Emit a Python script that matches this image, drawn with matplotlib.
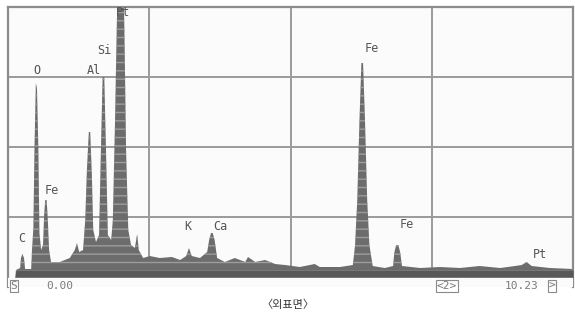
import numpy as np
import matplotlib
matplotlib.use("Agg")
import matplotlib.pyplot as plt

# spectrum (energy in keV, counts in arbitrary units)
energy = [0.00, 0.13, 0.145, 0.22, 0.235, 0.26, 0.29, 0.31, 0.42, 0.435, 0.46, 0.48,
          0.505, 0.525, 0.55, 0.57, 0.60, 0.635, 0.655, 0.675, 0.70, 0.72, 0.745, 0.78,
          0.94, 1.12, 1.21, 1.25, 1.29, 1.36, 1.40, 1.43, 1.465, 1.49, 1.52, 1.545,
          1.595, 1.65, 1.68, 1.715, 1.745, 1.78, 1.81, 1.87, 1.90, 1.94, 1.97, 1.99,
          2.09, 2.11, 2.14, 2.18, 2.23, 2.30, 2.34, 2.37, 2.45, 2.57, 2.75, 2.97, 3.12,
          3.23, 3.28, 3.33, 3.48, 3.61, 3.645, 3.68, 3.71, 3.745, 3.79, 3.93, 4.11, 4.30,
          4.35, 4.48, 4.66, 4.84, 5.02, 5.29, 5.56, 5.65, 6.02, 6.25, 6.29, 6.33, 6.37,
          6.405, 6.435, 6.47, 6.51, 6.55, 6.61, 6.83, 6.98, 7.00, 7.035, 7.075, 7.11,
          7.14, 7.47, 7.83, 8.19, 8.55, 8.92, 9.19, 9.31, 9.40, 9.49, 9.82, 10.24]
counts = [0, 0, 8, 10, 20, 24, 20, 9, 9, 28, 50, 130,
          195, 190, 130, 45, 28, 33, 63, 78, 78, 60, 28, 16,
          16, 20, 28, 35, 26, 28, 58, 108, 146, 146, 103, 48,
          36, 43, 118, 201, 201, 118, 43, 38, 58, 158, 248, 300,
          300, 248, 128, 48, 33, 30, 44, 28, 20, 22, 20, 21, 18,
          22, 30, 22, 20, 26, 38, 45, 45, 38, 20, 16, 20, 16,
          21, 16, 18, 14, 13, 11, 14, 11, 11, 13, 33, 78, 158,
          215, 215, 158, 78, 33, 12, 10, 12, 25, 33, 33, 25,
          12, 10, 11, 10, 12, 10, 12, 13, 16, 12, 10, 9]

# element markers
peak_names = ["C", "O", "Fe", "Al", "Si", "Pt", "K", "Ca", "Fe", "Fe", "Pt"]
peak_x = [0.25, 0.53, 0.80, 1.56, 1.74, 2.08, 3.26, 3.84, 6.60, 7.23, 9.64]
peak_y = [40, 208, 88, 208, 228, 265, 52, 52, 230, 53, 24]

fig = plt.figure(figsize=(5.75, 3.2), dpi=100)
ax = fig.add_axes([8/575, 33/320, 565/575, 280/320])
ax.set_facecolor("#fbfbfb")

lo, hi = -9, 271
ax.set_xlim(0, 10.24)
ax.set_ylim(lo, hi)

# grid (4 x 4 screen divisions)
ax.set_xticks(np.linspace(0, 10.24, 5)[1:-1])
ax.set_yticks(lo + (hi - lo) * np.array([0.25, 0.5, 0.75]))
ax.grid(True, color="#9a9a9a", lw=1.4, zorder=0)
ax.tick_params(length=0, labelbottom=False, labelleft=False)

plt.rcParams["hatch.linewidth"] = 1.0
ax.fill_between(energy, 0, counts, facecolor="#6c6c6c", edgecolor="#9c9c9c",
                hatch="--", linewidth=0, zorder=2)
ax.fill_between(energy, 0, np.minimum(counts, 8), color="#585858", lw=0, zorder=3)
ax.axhspan(lo, 0, color="#fbfbfb", zorder=3)

for name, x, y in zip(peak_names, peak_x, peak_y):
    ax.text(x, y, name, ha="center", va="center", fontsize=8.5,
            family="DejaVu Sans Mono", color="#555555", zorder=4)

for s in ["left", "top", "right"]:
    ax.spines[s].set_color("#8c8c8c")
    ax.spines[s].set_linewidth(1.6)
ax.spines["bottom"].set_visible(False)

# status line under the screen
st = dict(family=["DejaVu Sans Mono", "DejaVu Sans"], fontsize=8, color="#7a7a7a",
          va="center")
box = dict(boxstyle="square,pad=0.1", fc="none", ec="#8a8a8a", lw=0.8)
fig.text(14/575, 1 - 286/320, "S", ha="center", bbox=box, **st)
fig.text(60/575, 1 - 286/320, "0.00", ha="center", **st)
fig.text(447/575, 1 - 286/320, "<2>", ha="center", bbox=box, **st)
fig.text(522/575, 1 - 286/320, "10.23", ha="center", **st)
fig.text(552/575, 1 - 286/320, ">", ha="center", bbox=box, **st)

fig.text(0.5, 1 - 305/320, "〈외표면〉", ha="center", va="center", fontsize=8,
         family=["Noto Sans CJK KR", "DejaVu Sans"], color="#333333")

fig.savefig("out.png", dpi=100, facecolor="white")
